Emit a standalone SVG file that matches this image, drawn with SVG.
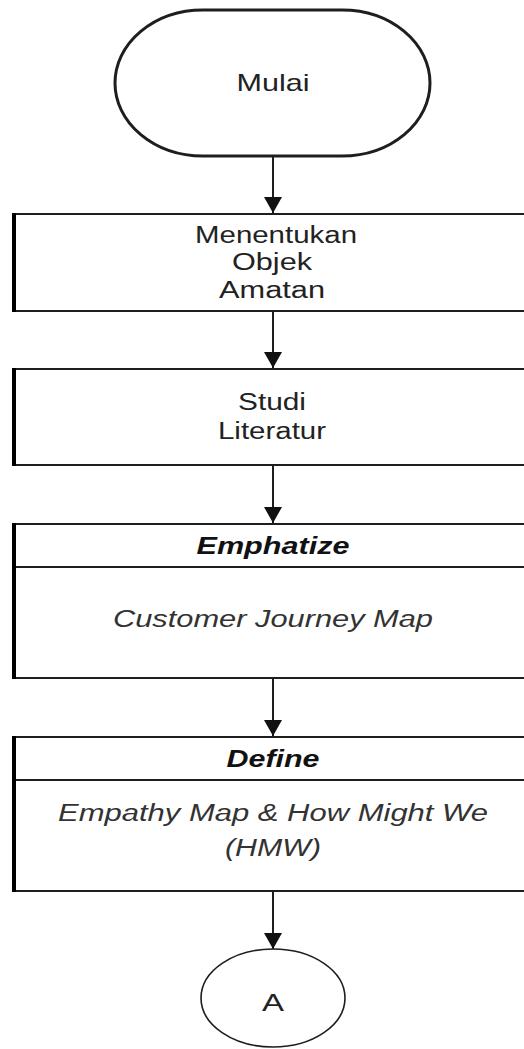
<svg xmlns="http://www.w3.org/2000/svg" width="524" height="1049" viewBox="0 0 524 1049">
<style>
.shape{fill:#ffffff;stroke:#1e1e1e;stroke-width:2}
.lb{stroke:#000;stroke-width:4}
.t{font-family:"Liberation Sans",Arial,sans-serif;font-size:23px;fill:#222;text-anchor:middle}
.bi{font-weight:bold;font-style:italic;fill:#111}
.i{font-style:italic;fill:#333}
.conn{stroke:#1e1e1e;stroke-width:2;fill:none}
</style>
<defs>
<marker id="arr" markerUnits="userSpaceOnUse" markerWidth="22" markerHeight="18" refX="16" refY="9" orient="auto">
<path d="M0,0 L16,9 L0,18 Z" fill="#111"/>
</marker>
</defs>
<rect width="524" height="1049" fill="#ffffff"/>
<g id="connectors">
<line class="conn" x1="273" y1="156" x2="273" y2="213" marker-end="url(#arr)"/>
<line class="conn" x1="273" y1="311" x2="273" y2="368" marker-end="url(#arr)"/>
<line class="conn" x1="273" y1="465" x2="273" y2="523" marker-end="url(#arr)"/>
<line class="conn" x1="273" y1="678" x2="273" y2="736" marker-end="url(#arr)"/>
<line class="conn" x1="273" y1="891" x2="273" y2="949" marker-end="url(#arr)"/>
</g>
<g id="mulai">
<rect class="shape" x="115" y="10" width="315" height="146" rx="88" ry="73" style="stroke-width:3"/>
<text class="t" x="273" y="91" textLength="73" lengthAdjust="spacingAndGlyphs" style="font-size:24px">Mulai</text>
</g>
<g id="menentukan">
<rect class="shape" x="14" y="214" width="520" height="97"/>
<line class="lb" x1="14" y1="213" x2="14" y2="312"/>
<text class="t" x="276" y="243" textLength="162" lengthAdjust="spacingAndGlyphs">Menentukan</text>
<text class="t" x="272" y="270" textLength="80" lengthAdjust="spacingAndGlyphs">Objek</text>
<text class="t" x="272" y="298" textLength="106" lengthAdjust="spacingAndGlyphs">Amatan</text>
</g>
<g id="studi">
<rect class="shape" x="14" y="369" width="520" height="96"/>
<line class="lb" x1="14" y1="368" x2="14" y2="466"/>
<text class="t" x="272" y="410" textLength="68" lengthAdjust="spacingAndGlyphs">Studi</text>
<text class="t" x="272" y="439" textLength="108" lengthAdjust="spacingAndGlyphs">Literatur</text>
</g>
<g id="emphatize">
<rect class="shape" x="14" y="524" width="520" height="154"/>
<line class="shape" x1="14" y1="567" x2="534" y2="567"/>
<line class="lb" x1="14" y1="523" x2="14" y2="679"/>
<text class="t bi" x="273" y="554" textLength="153" lengthAdjust="spacingAndGlyphs">Emphatize</text>
<text class="t i" x="273" y="627" textLength="320" lengthAdjust="spacingAndGlyphs">Customer Journey Map</text>
</g>
<g id="define">
<rect class="shape" x="14" y="737" width="520" height="154"/>
<line class="shape" x1="14" y1="780" x2="534" y2="780"/>
<line class="lb" x1="14" y1="736" x2="14" y2="892"/>
<text class="t bi" x="273" y="767" textLength="93" lengthAdjust="spacingAndGlyphs">Define</text>
<text class="t i" x="273" y="821" textLength="430" lengthAdjust="spacingAndGlyphs">Empathy Map &amp; How Might We</text>
<text class="t i" x="273" y="856" textLength="96" lengthAdjust="spacingAndGlyphs">(HMW)</text>
</g>
<g id="connector-a">
<ellipse class="shape" cx="273" cy="998" rx="72" ry="49" style="stroke-width:1.6"/>
<text class="t" x="273" y="1011" textLength="22" lengthAdjust="spacingAndGlyphs">A</text>
</g>
</svg>
